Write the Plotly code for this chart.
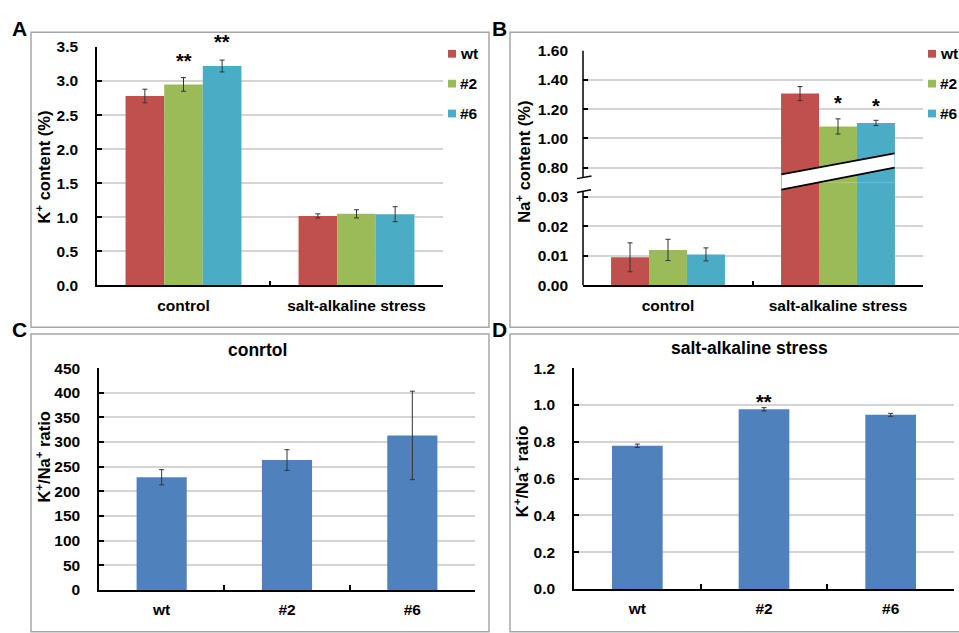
import plotly.graph_objects as go

W, H = 959, 633


def px(x):
    return x / W


def py(y):
    return 1 - y / H


# ---------------- data ----------------
groups = ["control", "salt-alkaline stress"]
lines = ["wt", "#2", "#6"]
line_colors = ["#c0504d", "#9bbb59", "#4bacc6"]

# Panel A: K+ content (%)
k_wt = [2.78, 1.02]
k_wt_err = [0.10, 0.03]
k_l2 = [2.95, 1.05]
k_l2_err = [0.10, 0.06]
k_l6 = [3.22, 1.045]
k_l6_err = [0.087, 0.11]

# Panel B: Na+ content (%)
na_wt = [0.0095, 1.307]
na_wt_err = [0.0049, 0.048]
na_l2 = [0.012, 1.082]
na_l2_err = [0.0036, 0.052]
na_l6 = [0.0105, 1.106]
na_l6_err = [0.0022, 0.018]

# Panel C / D: K+/Na+ ratio
ratio_ctrl = [228.6, 263.5, 313.4]
ratio_ctrl_err = [15.4, 21.0, 89.7]
ratio_salt = [0.778, 0.976, 0.946]
ratio_salt_err = [0.009, 0.009, 0.008]

# ---------------- styles ----------------
FONT = "Liberation Sans, Arial, sans-serif"
BLUE = "#4f81bd"
GRID = "#d4d4d4"
ERR = dict(type="data", color="#333333", thickness=1, width=2.5)

group_w = 0.67
bw = group_w / 3
offsets = [-group_w / 2 + i * bw for i in range(3)]

fig = go.Figure()

# Panel A
for name, col, vals, errs, off in zip(
    lines, line_colors, [k_wt, k_l2, k_l6], [k_wt_err, k_l2_err, k_l6_err], offsets
):
    fig.add_trace(go.Bar(
        x=groups, y=vals, width=bw, offset=off, name=name,
        marker=dict(color=col, line=dict(width=0)),
        error_y=dict(array=errs, **ERR),
        xaxis="x", yaxis="y", showlegend=False,
    ))

# Panel B (broken axis: y3 bottom segment, y2 top segment)
for name, col, vals, errs, off in zip(
    lines, line_colors, [na_wt, na_l2, na_l6], [na_wt_err, na_l2_err, na_l6_err], offsets
):
    for ya in ("y3", "y2"):
        fig.add_trace(go.Bar(
            x=groups, y=vals, width=bw, offset=off, name=name,
            marker=dict(color=col, line=dict(width=0)),
            error_y=dict(array=errs, **ERR),
            xaxis="x2", yaxis=ya, showlegend=False,
        ))

# Panel C
fig.add_trace(go.Bar(
    x=lines, y=ratio_ctrl, width=0.4, marker=dict(color=BLUE, line=dict(width=0)),
    error_y=dict(array=ratio_ctrl_err, **ERR), xaxis="x3", yaxis="y4", showlegend=False,
))
# Panel D
fig.add_trace(go.Bar(
    x=lines, y=ratio_salt, width=0.4, marker=dict(color=BLUE, line=dict(width=0)),
    error_y=dict(array=ratio_salt_err, **ERR), xaxis="x4", yaxis="y5", showlegend=False,
))

tickfont = dict(family=FONT, size=15.5, color="black", weight="bold")


def xax(dom, anchor, n):
    return dict(
        domain=[px(dom[0]), px(dom[1])], anchor=anchor, type="category",
        range=[-0.5, n - 0.5], showline=True, linecolor="black", linewidth=1.5,
        ticks="inside", tickson="boundaries", ticklen=5, tickwidth=1.5, tickcolor="black",
        showgrid=False, tickfont=tickfont, ticklabelstandoff=5, fixedrange=True,
    )


def yax(dom, anchor, rng, dtick, fmt, showline=True, tick0=0):
    return dict(
        domain=[py(dom[1]), py(dom[0])], anchor=anchor, range=rng, dtick=dtick, tick0=tick0,
        tickformat=fmt, showline=showline, linecolor="black", linewidth=1.5,
        ticks="inside", ticklen=5, tickwidth=1.5, tickcolor="black",
        showgrid=True, gridcolor=GRID, gridwidth=1.5, zeroline=False,
        tickfont=tickfont, ticklabelstandoff=14, fixedrange=True,
    )


B_break = 178
fig.update_layout(
    width=W, height=H, margin=dict(l=0, r=0, t=0, b=0),
    paper_bgcolor="white", plot_bgcolor="white", showlegend=False,
    barmode="overlay", font=dict(family=FONT, color="black"),
    xaxis=xax((97, 443), "y", 2),
    yaxis=yax((39, 284), "x", [0, 3.5], 0.5, ".1f"),
    xaxis2=xax((583, 923), "y3", 2),
    yaxis2=yax((43, B_break), "x2", [0.7, 1.6], 0.2, ".2f", showline=False, tick0=0.8),
    yaxis3=yax((B_break, 284), "x2", [0, 0.03 * (284 - B_break) / (284 - 193)], 0.01, ".2f",
               showline=False),
    xaxis3=xax((99, 475), "y4", 3),
    yaxis4=yax((369, 597), "x3", [0, 450], 50, "d"),
    xaxis4=xax((574, 954), "y5", 3),
    yaxis5=yax((369, 596), "x4", [0, 1.2], 0.2, ".1f"),
)

# ---------------- shapes ----------------
shapes = []
BOX = dict(color="#a6a6a6", width=1.5)
for (x0, y0, x1, y1) in [(31, 24, 489, 327), (510, 24, 965, 327),
                         (31, 334, 489, 640), (510, 334, 965, 640)]:
    shapes.append(dict(type="rect", xref="paper", yref="paper",
                       x0=px(x0), x1=px(x1), y0=py(y1), y1=py(y0), line=BOX))

# broken-axis slash across the stressed bars
sx0, sx1 = 781.5, 894.5
up0, up1 = 170.0, 148.3
lo0, lo1 = 185.7, 163.0
shapes.append(dict(
    type="path", xref="paper", yref="paper",
    path=f"M{px(sx0)},{py(up0)} L{px(sx1)},{py(up1)} L{px(sx1)},{py(lo1)} L{px(sx0)},{py(lo0)} Z",
    fillcolor="white", line=dict(width=0),
))
for (a, b) in [(up0, up1), (lo0, lo1)]:
    shapes.append(dict(type="line", xref="paper", yref="paper",
                       x0=px(sx0), y0=py(a), x1=px(sx1), y1=py(b),
                       line=dict(color="black", width=1.8)))

# y-axis lines with break marks for panel B
AX = dict(color="black", width=1.5)
for (x0, y0, x1, y1) in [(583, 43, 583, 172.8), (577, 174.3, 591.5, 171.5),
                         (577, 188.5, 591, 185.7), (583, 187, 583, 284)]:
    shapes.append(dict(type="line", xref="paper", yref="paper",
                       x0=px(x0), y0=py(y0), x1=px(x1), y1=py(y1), line=AX))

# ---------------- annotations ----------------
ann = []


def text(x, y, s, size, angle=0, xanchor="center", yanchor="middle"):
    ann.append(dict(xref="paper", yref="paper", x=px(x), y=py(y), text=s, showarrow=False,
                    textangle=angle, xanchor=xanchor, yanchor=yanchor,
                    font=dict(family=FONT, size=size, color="black", weight="bold")))


# legends (panel A and B)
for lx in (448, 928):
    for i, (name, col) in enumerate(zip(lines, line_colors)):
        cy = 46 + i * 30.7
        shapes.append(dict(type="rect", xref="paper", yref="paper",
                           x0=px(lx), x1=px(lx + 8), y0=py(cy + 4), y1=py(cy - 4),
                           fillcolor=col, line=dict(width=0)))
        text(lx + 10, cy, name, 15.5, xanchor="left")

fig.update_layout(shapes=shapes)

# panel letters
text(19, 20, "A", 21)
text(499, 20, "B", 21)
text(19, 329, "C", 21)
text(499, 329, "D", 21)

# y-axis titles
text(43, 163, "K<sup>+</sup> content (%)", 16.5, angle=-90)
text(523, 157, "Na<sup>+</sup> content (%)", 16.5, angle=-90)
text(43, 461, "K<sup>+</sup>/Na<sup>+</sup> ratio", 16.5, angle=-90)
text(521, 476, "K<sup>+</sup>/Na<sup>+</sup> ratio", 16.5, angle=-90)

# panel titles
text(257, 350, "conrtol", 17.5)
text(749, 348, "salt-alkaline stress", 17.5)


# significance stars, anchored at the top of each error bar
def star(xref, yref, x, y, s, shift):
    ann.append(dict(xref=xref, yref=yref, x=x, y=y, text=s, showarrow=False,
                    xanchor="center", yanchor="middle", yshift=shift,
                    font=dict(family=FONT, size=20, color="black", weight="bold")))


star("x", "y", 0 + offsets[1] + bw / 2, k_l2[0] + k_l2_err[0], "**", 17)
star("x", "y", 0 + offsets[2] + bw / 2, k_l6[0] + k_l6_err[0], "**", 18)
star("x2", "y2", 1 + offsets[1] + bw / 2, na_l2[1] + na_l2_err[1], "*", 16)
star("x2", "y2", 1 + offsets[2] + bw / 2, na_l6[1] + na_l6_err[1], "*", 14)
star("x4", "y5", 1, ratio_salt[1] + ratio_salt_err[1], "**", 6)

fig.update_layout(annotations=ann)

fig.write_html(
    "out.html",
    config={"displayModeBar": False},
    post_script="document.body.style.margin='0';document.body.style.overflow='hidden';",
)
